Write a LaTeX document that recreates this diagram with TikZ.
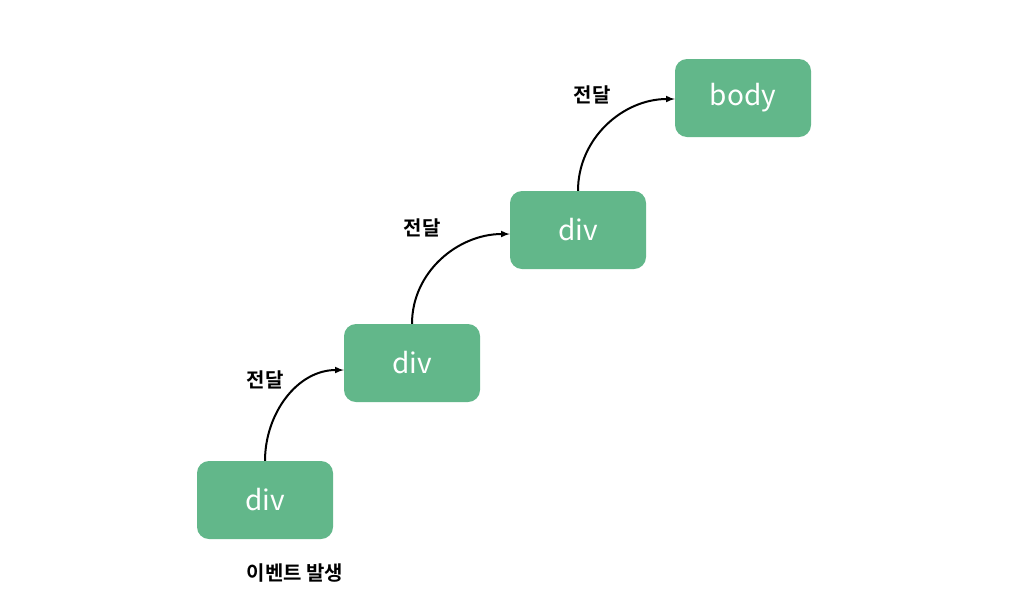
\documentclass[tikz,border=0pt]{standalone}
\usepackage{fontspec}
\setmainfont{Noto Sans CJK KR}
\newfontfamily\krbold[BoldFont={* Bold}]{Noto Sans CJK KR}
\usetikzlibrary{positioning}
\definecolor{boxgreen}{HTML}{62B78A}
\begin{document}
\begin{tikzpicture}
[x=1pt,y=-1pt,
 elem/.style={fill=boxgreen,rounded corners=12pt,minimum width=136pt,minimum height=78pt,text=white,font=\fontsize{28}{30}\selectfont},
 pass/.style={font=\krbold\bfseries\fontsize{20}{22}\selectfont},
 flow/.style={-latex,line width=2pt}]
\useasboundingbox (0,0) rectangle (1024,606);
\node[elem](d1) at (265,500){div};
\node[elem](d2) at (412,363){div};
\node[elem](d3) at (578,230){div};
\node[elem](b) at (743,98){body};
\node[pass](p1) at (265,380){전달};
\node[pass](p2) at (422,228){전달};
\node[pass](p3) at (592,95){전달};
\node[pass](ev) at (295,573){이벤트 발생};
\draw[flow] (d1.north) to[out=90,in=180] ([yshift=-7pt]d2.west);
\draw[flow] (d2.north) to[out=90,in=180] ([yshift=-4pt]d3.west);
\draw[flow] (d3.north) to[out=90,in=180] ([yshift=-1pt]b.west);
\end{tikzpicture}
\end{document}
